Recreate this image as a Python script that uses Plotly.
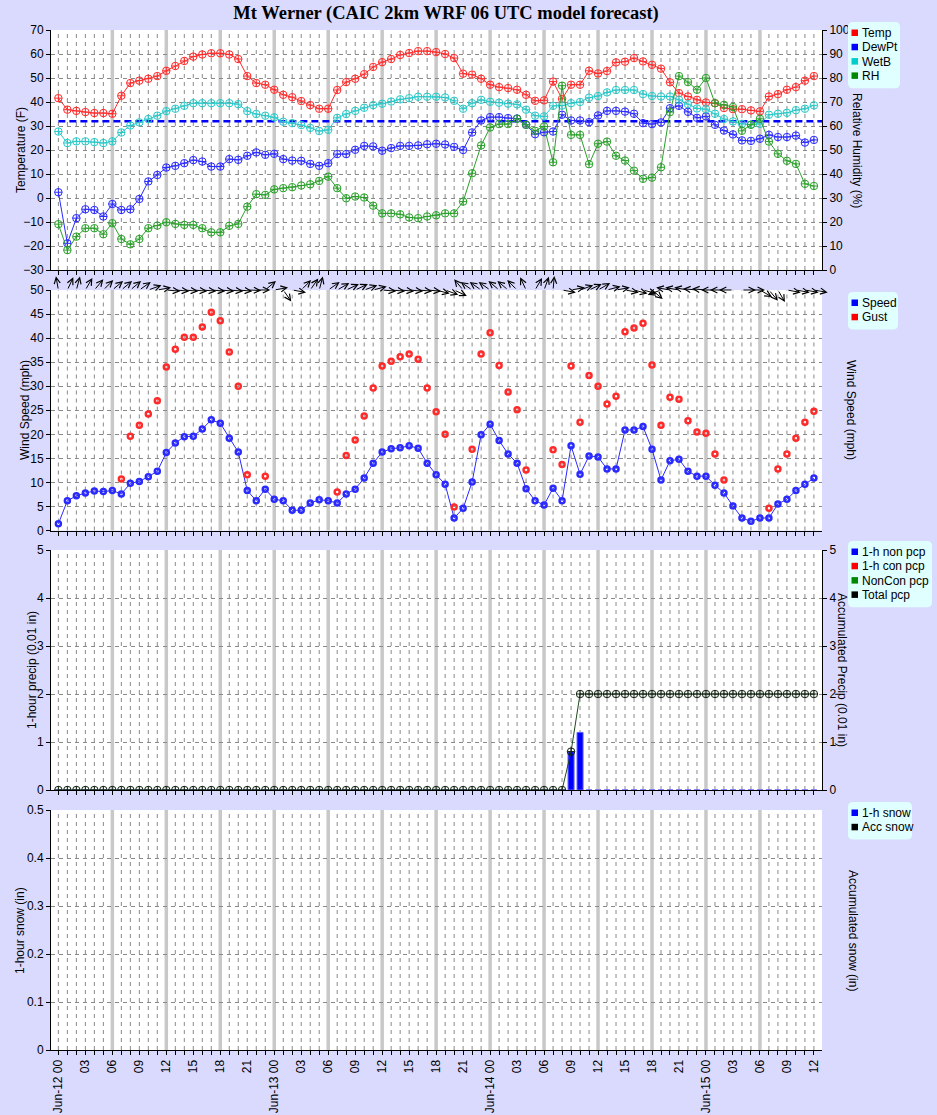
import numpy as np
import plotly.graph_objects as go

# ---------------- data ----------------
hours = list(range(85))  # hours since Jun-12 00 UTC

temp = [41.6, 36.8, 36.3, 35.8, 35.4, 35.4, 35.1, 42.6, 47.9, 48.9,
        49.7, 50.8, 53.0, 55.0, 57.1, 58.9, 59.8, 60.3, 60.3, 59.8,
        57.9, 50.8, 47.9, 47.2, 45.1, 43.0, 42.0, 40.4, 38.7, 37.2,
        37.2, 45.0, 48.3, 49.7, 51.6, 54.6, 56.6, 57.9, 59.6, 60.4,
        61.2, 61.2, 60.8, 60.0, 58.3, 51.8, 51.4, 49.7, 47.2, 46.2,
        45.8, 45.1, 43.0, 40.5, 40.7, 48.5, 41.3, 47.2, 47.2, 53.0,
        51.9, 52.9, 56.5, 56.8, 58.3, 56.9, 55.5, 53.9, 48.2, 43.7,
        42.3, 40.9, 39.8, 39.5, 37.5, 37.0, 37.0, 36.5, 36.1, 42.3,
        43.3, 45.1, 46.2, 48.9, 50.8]

dewpt = [2.4, -18.9, -8.4, -4.7, -5.0, -7.7, -2.5, -5.0, -4.7, -0.4,
         6.9, 9.6, 12.7, 13.4, 14.5, 15.8, 15.2, 13.1, 13.1, 16.2,
         15.9, 17.6, 19.0, 18.0, 18.4, 16.2, 15.6, 15.5, 14.2, 13.4,
         14.5, 18.3, 18.3, 20.1, 21.7, 21.5, 19.7, 20.8, 21.7, 21.7,
         21.9, 22.4, 22.6, 22.3, 21.3, 20.0, 27.3, 32.3, 33.7, 33.7,
         33.3, 33.1, 30.5, 26.6, 27.4, 27.7, 34.7, 32.3, 32.3, 31.6,
         34.4, 36.3, 36.3, 36.0, 35.1, 31.2, 30.8, 31.5, 37.4, 38.4,
         35.9, 33.4, 34.0, 30.5, 28.1, 26.5, 24.0, 23.8, 24.7, 26.3,
         25.4, 25.4, 26.0, 23.1, 24.2]

wetb = [27.7, 22.9, 23.6, 23.6, 23.3, 22.9, 23.6, 27.3, 30.2, 31.5,
        32.9, 34.3, 36.2, 37.2, 38.4, 39.5, 39.5, 39.5, 39.5, 39.5,
        39.1, 36.2, 35.0, 34.3, 33.6, 31.8, 31.2, 30.4, 29.2, 27.9,
        28.4, 33.4, 35.0, 36.3, 37.6, 38.7, 39.3, 40.2, 41.1, 41.6,
        42.2, 42.2, 42.2, 41.9, 40.5, 37.2, 39.5, 40.9, 40.1, 39.7,
        39.3, 39.0, 36.8, 34.3, 34.0, 38.4, 38.5, 39.5, 40.0, 41.8,
        42.5, 44.0, 45.0, 45.0, 45.0, 43.3, 42.5, 42.3, 42.3, 40.9,
        39.1, 37.3, 37.0, 35.1, 32.9, 31.9, 30.9, 30.6, 30.9, 34.7,
        35.1, 35.5, 36.6, 37.2, 38.6]

rh = [19.1, 8.3, 13.9, 17.4, 17.4, 14.9, 19.5, 12.9, 10.7, 12.9,
      17.4, 18.5, 19.9, 19.2, 18.8, 18.8, 17.4, 15.7, 15.7, 18.4,
      19.2, 26.4, 31.6, 31.3, 33.6, 34.1, 34.5, 35.2, 35.7, 37.1,
      38.9, 34.1, 29.9, 30.6, 30.2, 26.8, 23.6, 23.6, 23.2, 21.9,
      21.6, 22.3, 22.8, 23.6, 23.6, 28.5, 40.3, 51.9, 59.4, 60.8,
      60.8, 63.0, 60.5, 58.0, 59.8, 44.9, 76.8, 56.3, 56.3, 44.1,
      52.6, 53.5, 47.6, 45.6, 41.4, 38.0, 38.5, 42.8, 65.8, 80.8,
      78.3, 75.1, 80.0, 69.5, 68.8, 67.9, 58.0, 60.5, 63.0, 53.5,
      48.4, 45.5, 44.2, 35.9, 35.0]

speed = [1.4, 6.2, 7.2, 7.8, 8.2, 8.1, 8.3, 7.6, 9.8, 10.2,
         11.2, 12.3, 16.2, 18.2, 19.5, 19.6, 21.1, 23.0, 22.3, 19.2,
         16.3, 8.3, 6.2, 8.6, 6.5, 6.2, 4.2, 4.2, 5.7, 6.4,
         6.2, 5.7, 7.6, 8.6, 10.9, 14.0, 16.3, 17.0, 17.2, 17.6,
         17.1, 14.0, 11.6, 9.6, 2.6, 4.6, 10.1, 19.9, 22.1, 18.7,
         15.9, 14.0, 8.7, 6.2, 5.3, 8.8, 6.2, 17.6, 11.7, 15.5,
         15.3, 12.8, 12.8, 20.9, 20.9, 21.6, 16.9, 10.5, 14.5, 14.8,
         12.3, 11.3, 11.3, 9.4, 7.8, 5.1, 2.6, 1.9, 2.6, 2.6,
         5.5, 6.5, 8.3, 9.6, 10.9]

gust = [None, None, None, None, None, None, None, 10.7, 19.6, 21.9,
        24.2, 27.0, 34.0, 37.7, 40.2, 40.2, 42.3, 45.4, 43.6, 37.1,
        30.0, 11.6, None, 11.3, None, None, None, None, None, None,
        None, 8.0, 15.6, 18.8, 23.8, 29.6, 34.2, 35.2, 36.1, 36.7,
        35.6, 29.6, 24.7, 20.0, 4.9, None, 16.9, 36.7, 41.1, 34.3,
        28.8, 25.1, 12.6, None, None, 16.8, 13.7, 34.2, 22.5, 32.2,
        30.0, 26.3, 27.9, 41.3, 42.1, 43.1, 34.4, 21.9, 27.7, 27.3,
        22.8, 20.5, 20.2, 15.9, 10.5, None, None, None, None, 4.6,
        12.8, 15.9, 19.2, 22.5, 24.8]

# wind direction the arrow points to (deg clockwise from up)
wdir = [-10, 25, 15, 30, 40, 45, 50, 50, 50, 55,
        70, 80, 95, 95, 95, 95, 95, 95, 95, 95,
        95, 92, 90, 50, 80, 145, 100, 45, 35, 15,
        55, 60, 65, 65, 70, 75, 95, 95, 95, 95,
        95, 95, 105, 110, 115, -40, -55, -55, -55, -50,
        -50, -45, -25, 30, 20, 5, 100, 80, 70, 65,
        60, 75, 80, 100, 105, 105, 130, -110, -80, -80,
        -80, -85, -85, -90, -90, -90, 90, 90, 120, 140,
        150, 100, 100, 100, 100]

pcp_non = [0, 0, 0, 0, 0, 0, 0, 0, 0, 0,
           0, 0, 0, 0, 0, 0, 0, 0, 0, 0,
           0, 0, 0, 0, 0, 0, 0, 0, 0, 0,
           0, 0, 0, 0, 0, 0, 0, 0, 0, 0,
           0, 0, 0, 0, 0, 0, 0, 0, 0, 0,
           0, 0, 0, 0, 0, 0, 0, 0.8, 1.2, 0,
           0, 0, 0, 0, 0, 0, 0, 0, 0, 0,
           0, 0, 0, 0, 0, 0, 0, 0, 0, 0,
           0, 0, 0, 0, 0]
pcp_total = [0, 0, 0, 0, 0, 0, 0, 0, 0, 0,
             0, 0, 0, 0, 0, 0, 0, 0, 0, 0,
             0, 0, 0, 0, 0, 0, 0, 0, 0, 0,
             0, 0, 0, 0, 0, 0, 0, 0, 0, 0,
             0, 0, 0, 0, 0, 0, 0, 0, 0, 0,
             0, 0, 0, 0, 0, 0, 0, 0.8, 2, 2,
             2, 2, 2, 2, 2, 2, 2, 2, 2, 2,
             2, 2, 2, 2, 2, 2, 2, 2, 2, 2,
             2, 2, 2, 2, 2]

tick_text = []
for h in hours:
    if h % 24 == 0:
        tick_text.append("Jun-%d 00" % (12 + h // 24))
    elif h % 3 == 0:
        tick_text.append("%02d" % (h % 24))
    else:
        tick_text.append("")

legend_sets = [
    (22, 900, [("Temp", "#ff0000"), ("DewPt", "#0000ff"), ("WetB", "#00cccc"), ("RH", "#008800")]),
    (292, 898, [("Speed", "#0000ff"), ("Gust", "#ff0000")]),
    (541, 932, [("1-h non pcp", "#0000ff"), ("1-h con pcp", "#ff0000"),
                ("NonCon pcp", "#008800"), ("Total pcp", "#000000")]),
    (802, 912, [("1-h snow", "#0000ff"), ("Acc snow", "#000000")]),
]

# ---------------- styling ----------------
FONT = "Liberation Sans"
RED, BLUE, CYAN, GREEN = "#ff2a2a", "#2a2aff", "#2ac8c8", "#2aa02a"
BG = "#dadaff"
GRID = "#8a8a8a"
XR = [-0.82, 84.9]
L_MARGIN, R_MARGIN, T_MARGIN, B_MARGIN = 51, 115, 30, 65
W, H = 937, 1115
PW = W - L_MARGIN - R_MARGIN
PH = H - T_MARGIN - B_MARGIN


def pxx(px):
    return (px - L_MARGIN) / PW


def pxy(py):
    return (H - B_MARGIN - py) / PH


doms = [[pxy(270), 1.0], [pxy(530.5), pxy(290)], [pxy(790), pxy(550)], [0.0, pxy(810)]]

fig = go.Figure()

# Panel 1
for name, ys, col, ax in [("Temp", temp, RED, "y"), ("DewPt", dewpt, BLUE, "y"),
                          ("WetB", wetb, CYAN, "y"), ("RH", rh, GREEN, "y5")]:
    fig.add_trace(go.Scatter(x=hours, y=ys, xaxis="x", yaxis=ax, mode="lines+markers",
                             line=dict(color=col, width=1),
                             marker=dict(symbol="circle-cross-open", size=7.5, color=col, line=dict(width=1)),
                             showlegend=False, name=name))
# Panel 2
fig.add_trace(go.Scatter(x=hours, y=speed, xaxis="x2", yaxis="y2", mode="lines+markers",
                         line=dict(color=BLUE, width=1),
                         marker=dict(symbol="circle-open", size=5, color=BLUE, line=dict(width=2.5)),
                         showlegend=False, name="Speed"))
fig.add_trace(go.Scatter(x=hours, y=gust, xaxis="x2", yaxis="y2", mode="markers",
                         marker=dict(symbol="circle-open", size=5, color=RED, line=dict(width=2.5)),
                         showlegend=False, name="Gust"))
# Panel 3
fig.add_trace(go.Bar(x=hours, y=pcp_non, xaxis="x3", yaxis="y3", width=0.67,
                     marker=dict(color="#0000ff", line=dict(width=1, color="#6060ff")),
                     showlegend=False, name="1-h non pcp"))
fig.add_trace(go.Scatter(x=hours, y=pcp_total, xaxis="x3", yaxis="y7", mode="lines+markers",
                         line=dict(color="#1e4a1e", width=1),
                         marker=dict(symbol="circle-cross-open", size=7.5, color="#102010", line=dict(width=1)),
                         showlegend=False, name="Total pcp"))

# ---------------- axes ----------------
tickfont = dict(family=FONT, size=12, color="black")
xcommon = dict(range=XR, tickmode="array", tickvals=hours, ticktext=tick_text,
               ticks="outside", ticklen=4, tickcolor="black", showline=True,
               linecolor="black", linewidth=1, showgrid=False, zeroline=False, tickfont=tickfont)
ycommon = dict(ticks="outside", ticklen=4, tickcolor="black", showline=True, linecolor="black",
               linewidth=1, showgrid=True, gridcolor=GRID, griddash="4px,4px", gridwidth=1,
               zeroline=False, tickfont=tickfont)
yright = dict(ticks="outside", ticklen=4, tickcolor="black", showline=True, linecolor="black",
              linewidth=1, showgrid=False, zeroline=False, tickfont=tickfont, side="right")

layout_axes = {}
for i in range(1, 5):
    k = "xaxis" if i == 1 else "xaxis%d" % i
    d = dict(xcommon, anchor="y" if i == 1 else "y%d" % i)
    if i < 4:
        d["showticklabels"] = False
    else:
        d["tickangle"] = -90
    layout_axes[k] = d

layout_axes["yaxis"] = dict(ycommon, domain=doms[0], range=[-30, 70], dtick=10, anchor="x")
layout_axes["yaxis2"] = dict(ycommon, domain=doms[1], range=[0, 50], dtick=5, anchor="x2")
layout_axes["yaxis3"] = dict(ycommon, domain=doms[2], range=[0, 5], dtick=1, anchor="x3")
layout_axes["yaxis4"] = dict(ycommon, domain=doms[3], range=[0, 0.5], dtick=0.1, anchor="x4")
layout_axes["yaxis5"] = dict(yright, overlaying="y", range=[0, 100], dtick=10, anchor="x")
layout_axes["yaxis6"] = dict(yright, overlaying="y2", range=[0, 50], dtick=5, anchor="x2")
layout_axes["yaxis7"] = dict(yright, overlaying="y3", range=[0, 5], dtick=1, anchor="x3")
layout_axes["yaxis8"] = dict(yright, overlaying="y4", range=[0, 0.5], dtick=0.1, anchor="x4")

# ---------------- shapes: hourly dashed grid + 6-hourly gray bands ----------------
shapes = []
for i in range(1, 5):
    xr = "x" if i == 1 else "x%d" % i
    yr = "y domain" if i == 1 else "y%d domain" % i
    for h in hours:
        if h % 6 == 0 and h != 0 and h != 84:
            shapes.append(dict(type="line", xref=xr, yref=yr, x0=h, x1=h, y0=0, y1=1,
                               line=dict(color="#c8c8c8", width=3.5), layer="below"))
        else:
            shapes.append(dict(type="line", xref=xr, yref=yr, x0=h, x1=h, y0=0, y1=1,
                               line=dict(color=GRID, width=1, dash="4px,4px"), layer="below"))
shapes.append(dict(type="line", xref="x", yref="y", x0=0, x1=XR[1], y0=32, y1=32,
                   line=dict(color="#0000ff", width=2.5, dash="7px,4px"), layer="below"))


def rounded_box(x0, y0, x1, y1, r=5):
    X = pxx
    Y = pxy
    return ("M %f,%f L %f,%f Q %f,%f %f,%f L %f,%f Q %f,%f %f,%f L %f,%f Q %f,%f %f,%f "
            "L %f,%f Q %f,%f %f,%f Z") % (
        X(x0 + r), Y(y0), X(x1 - r), Y(y0), X(x1), Y(y0), X(x1), Y(y0 + r),
        X(x1), Y(y1 - r), X(x1), Y(y1), X(x1 - r), Y(y1),
        X(x0 + r), Y(y1), X(x0), Y(y1), X(x0), Y(y1 - r),
        X(x0), Y(y0 + r), X(x0), Y(y0), X(x0 + r), Y(y0))


ann = []
legfont = dict(family=FONT, size=12, color="black")
for top, right, items in legend_sets:
    step = 14.3
    bottom = top + 9 + step * len(items)
    shapes.append(dict(type="path", xref="paper", yref="paper", path=rounded_box(848, top, right, bottom),
                       fillcolor="#e0ffff", line=dict(width=0), layer="above"))
    for j, (nm, col) in enumerate(items):
        yc = top + 11 + step * j
        shapes.append(dict(type="rect", xref="paper", yref="paper",
                           x0=pxx(851.5), x1=pxx(858), y0=pxy(yc - 3.5), y1=pxy(yc + 3),
                           fillcolor=col, line=dict(width=0), layer="above"))
        ann.append(dict(text=nm, x=pxx(859.5), y=pxy(yc), xref="paper", yref="paper",
                        xanchor="left", yanchor="middle", showarrow=False, font=legfont))

# ---------------- wind arrows ----------------
px_per_hr = PW / (XR[1] - XR[0])
px_per_mph = (doms[1][1] - doms[1][0]) * PH / 50.0
ARR = 14
for h, d in zip(hours, wdir):
    th = np.deg2rad(d)
    ann.append(dict(x=h + ARR * np.sin(th) / px_per_hr, y=50 + ARR * np.cos(th) / px_per_mph,
                    ax=h, ay=50, xref="x2", yref="y2", axref="x2", ayref="y2",
                    showarrow=True, arrowhead=5, arrowsize=1.2, arrowwidth=1,
                    arrowcolor="black", text=""))

tfont = dict(family=FONT, size=12, color="black")
for txt, xp, yp, ang in [
    ("Temperature (F)", 21, 150, -90),
    ("Wind Speed (mph)", 25, 410, -90),
    ("1-hour precip (0.01 in)", 32, 670, -90),
    ("1-hour snow (in)", 20, 930, -90),
    ("Relative Humidity (%)", 857, 150, 90),
    ("Wind Speed (mph)", 851, 410, 90),
    ("Accumulated Precip (0.01 in)", 842, 670, 90),
    ("Accumulated snow (in)", 853, 930, 90),
]:
    ann.append(dict(text=txt, x=pxx(xp), y=pxy(yp), xref="paper", yref="paper",
                    xanchor="center", yanchor="middle", textangle=ang, showarrow=False, font=tfont))

fig.update_layout(
    width=W, height=H,
    margin=dict(l=L_MARGIN, r=R_MARGIN, t=T_MARGIN, b=B_MARGIN, autoexpand=False),
    paper_bgcolor=BG, plot_bgcolor="white",
    title=dict(text="<b>Mt Werner (CAIC 2km WRF 06 UTC model forecast)</b>",
               font=dict(family="Liberation Serif", size=18.5, color="black"),
               x=446 / W, xref="container", xanchor="center",
               y=1 - 13 / H, yref="container", yanchor="middle"),
    barmode="overlay",
    showlegend=False,
    shapes=shapes,
    annotations=ann,
    **layout_axes,
)

fig.write_html("out.html")
